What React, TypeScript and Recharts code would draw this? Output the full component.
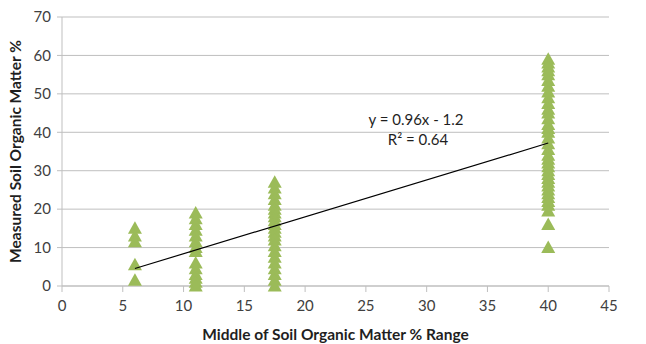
import {
  ScatterChart,
  Scatter,
  XAxis,
  YAxis,
  CartesianGrid,
  Label,
} from "recharts";

const GREEN = "#9bbb59";
const GRID = "#bfbfbf";
const INK = "#404040";
const FONT = "Lato, 'Open Sans', sans-serif";

const xTicks = [0, 5, 10, 15, 20, 25, 30, 35, 40, 45];
const yTicks = [0, 10, 20, 30, 40, 50, 60, 70];

// measured values per range midpoint
const at6 = [15, 13, 11.5, 5.5, 1.5];
const at11 = [19, 17.5, 16, 14.5, 13, 11.5, 10, 9, 6, 4.5, 3, 2, 1, 0];
const at175 = [27, 25.5, 24, 22.5, 21, 20, 19, 18, 17, 16, 15, 14, 13, 12, 10.5, 9, 7.5, 6, 4.5, 3, 1.5, 0];
const at40 = [
  59, 58, 57, 56, 55, 53.5, 52, 50.5, 49, 47.5, 46, 45, 43.5, 42, 41, 40,
  38.5, 37, 35.5, 34, 33, 32, 31, 30, 29, 28, 27, 26, 25, 24, 23, 22, 21,
  19.5, 16, 10,
];

const trend = [
  { x: 6, y: 4.56 },
  { x: 40, y: 37.2 },
];

const points = [
  ...at6.map((y) => ({ x: 6, y })),
  ...at11.map((y) => ({ x: 11, y })),
  ...at175.map((y) => ({ x: 17.5, y })),
  ...at40.map((y) => ({ x: 40, y })),
];

function Triangle(props: any) {
  const { cx, cy } = props;
  if (cx == null || cy == null) return null;
  return (
    <path
      d={`M${cx},${cy - 7} L${cx + 7},${cy + 5.5} L${cx - 7},${cy + 5.5} Z`}
      fill={GREEN}
    />
  );
}

export default function App() {
  return (
    <div style={{ position: "absolute", left: 0, top: 0, background: "#fff" }}>
      <ScatterChart
        width={646}
        height={344}
        margin={{ top: 17, right: 37, left: 0, bottom: 0 }}
      >
        <CartesianGrid vertical={false} stroke={GRID} />
        <XAxis
          type="number"
          dataKey="x"
          domain={[0, 45]}
          ticks={xTicks}
          stroke={GRID}
          tick={{ fontSize: 15, fill: INK, fontFamily: FONT }}
          tickLine={{ stroke: GRID }}
          tickSize={6}
          tickMargin={8}
          height={58}
        >
          <Label
            value="Middle of Soil Organic Matter % Range"
            position="insideBottom"
            offset={4}
            style={{ fontSize: 15.5, fontWeight: 700, fill: "#1f1f1f", fontFamily: FONT }}
          />
        </XAxis>
        <YAxis
          type="number"
          dataKey="y"
          domain={[0, 70]}
          ticks={yTicks}
          stroke={GRID}
          tick={{ fontSize: 15, fill: INK, fontFamily: FONT }}
          tickLine={{ stroke: GRID }}
          tickSize={5}
          tickMargin={6}
          width={62}
        >
          <Label
            value="Measured Soil Organic Matter %"
            angle={-90}
            position="insideLeft"
            offset={15}
            style={{ fontSize: 15.5, fontWeight: 700, fill: "#1f1f1f", fontFamily: FONT, textAnchor: "middle" }}
          />
        </YAxis>
        <Scatter
          data={points}
          shape={<Triangle />}
          isAnimationActive={false}
        />
        <Scatter
          data={trend}
          line={{ stroke: "#000", strokeWidth: 1.2 }}
          shape={() => <g />}
          isAnimationActive={false}
        />
        <text x={416} y={125} textAnchor="middle" fontSize={15} fill="#1f1f1f" fontFamily={FONT}>
          y = 0.96x - 1.2
        </text>
        <text x={418} y={145} textAnchor="middle" fontSize={15} fill="#1f1f1f" fontFamily={FONT}>
          R² = 0.64
        </text>
      </ScatterChart>
    </div>
  );
}
